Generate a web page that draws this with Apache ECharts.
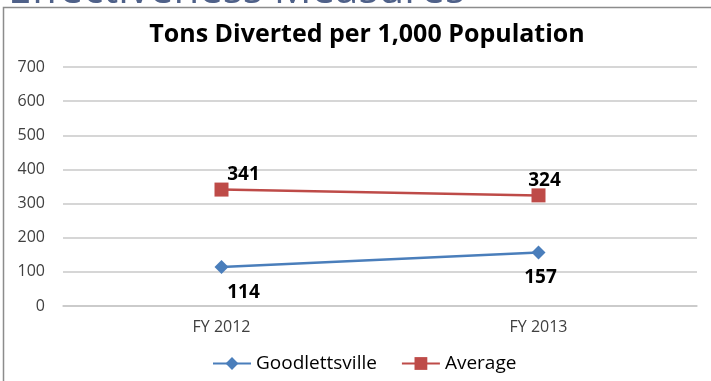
<!DOCTYPE html>
<html>
<head>
<meta charset="utf-8">
<script src="https://cdn.jsdelivr.net/npm/echarts@6/dist/echarts.min.js"></script>
<style>
  html, body { margin: 0; padding: 0; background: #fff; }
  #chart { width: 711px; height: 381px; }
</style>
</head>
<body>
<div id="chart"></div>
<script>
var categories = ['FY 2012', 'FY 2013'];
var goodlettsville = [114, 157];
var average = [341, 324];
var yTicks = [0, 700, 100];

var chart = echarts.init(document.getElementById('chart'));
var font = 'Open Sans, Calibri, Carlito, sans-serif';

// labels in the original sit a little right of their points
function withOffsets(values, offsets) {
  return values.map(function (v, i) {
    return { value: v, label: { offset: offsets[i] } };
  });
}

var option = {
  backgroundColor: '#fff',
  animation: false,
  title: {
    text: 'Tons Diverted per 1,000 Population',
    left: 362,
    top: 17,
    textAlign: 'center',
    textStyle: { fontFamily: font, fontSize: 25, fontWeight: 'bold', color: '#000' }
  },
  graphic: [
    {
      type: 'text', left: 8, top: -30, silent: true,
      style: { text: 'Effectiveness Measures', fontFamily: font, fontSize: 42, fill: '#4f6189' }
    },
    {
      type: 'rect', shape: { x: 3.5, y: 7.5, width: 760, height: 400 },
      style: { fill: 'none', stroke: '#8c8c8c', lineWidth: 1.5 }, silent: true
    }
  ],
  legend: {
    top: 349,
    left: 207,
    itemGap: 24,
    itemWidth: 38,
    itemHeight: 16,
    textStyle: { fontFamily: font, fontSize: 19, color: '#000' },
    data: ['Goodlettsville', 'Average']
  },
  grid: { left: 63, right: 14, top: 67, bottom: 75 },
  xAxis: {
    type: 'category',
    data: categories,
    axisLine: { show: true, lineStyle: { color: '#c8c8c8', width: 1.5 } },
    axisTick: { show: false },
    axisLabel: { fontFamily: font, fontSize: 16, color: '#404040', margin: 13 }
  },
  yAxis: {
    type: 'value',
    min: yTicks[0],
    max: yTicks[1],
    interval: yTicks[2],
    axisLine: { show: false },
    axisTick: { show: false },
    splitLine: { lineStyle: { color: '#c8c8c8', width: 1.5 } },
    axisLabel: { fontFamily: font, fontSize: 16, color: '#404040', margin: 18 }
  },
  series: [
    {
      name: 'Goodlettsville',
      type: 'line',
      data: withOffsets(goodlettsville, [[22, 0], [2, 0]]),
      symbol: 'diamond',
      symbolSize: 14,
      color: '#4a7ebb',
      lineStyle: { width: 2.5 },
      label: {
        show: true, position: 'bottom', distance: 9,
        fontFamily: font, fontSize: 19, fontWeight: 'bold', color: '#000'
      }
    },
    {
      name: 'Average',
      type: 'line',
      data: withOffsets(average, [[22, 0], [6, 0]]),
      symbol: 'rect',
      symbolSize: 14,
      color: '#be4b48',
      lineStyle: { width: 2.5 },
      label: {
        show: true, position: 'top', distance: -2,
        fontFamily: font, fontSize: 19, fontWeight: 'bold', color: '#000'
      }
    }
  ]
};
chart.setOption(option);
</script>
</body>
</html>
